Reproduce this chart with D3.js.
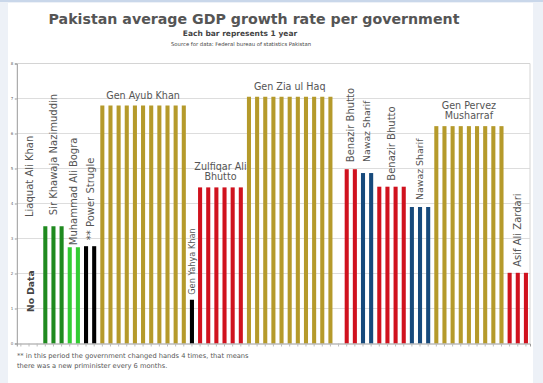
<!DOCTYPE html>
<html>
<head>
<meta charset="utf-8">
<script src="https://cdn.jsdelivr.net/npm/d3@7"></script>
<style>
  html, body { margin: 0; padding: 0; background: #edf1f7; }
  svg { display: block; }
  text { font-family: "DejaVu Sans", sans-serif; }
</style>
</head>
<body>
<script>
// ---- data ----
const governments = ["Liaquat Ali Khan", "Sir Khawaja Nazimuddin", "Muhammad Ali Bogra", "** Power Strugle",
  "Gen Ayub Khan", "Gen Yahya Khan", "Zulfiqar Ali Bhutto", "Gen Zia ul Haq", "",
  "Benazir Bhutto", "Nawaz Sharif", "Benazir Bhutto", "Nawaz Sharif", "Gen Pervez Musharraf", "Asif Ali Zardari"];
const yearsInOffice = [3, 3, 2, 2, 11, 1, 6, 11, 1, 2, 2, 4, 3, 9, 3];
const avgGrowth = [null, 3.35, 2.75, 2.78, 6.8, 1.25, 4.46, 7.05, null, 4.98, 4.87, 4.48, 3.9, 6.21, 2.02];
const groupColors = ["#000", "#1f8a1f", "#33cc33", "#000000", "#b59a2b", "#000000", "#d0121e", "#b59a2b", "#000",
  "#d0121e", "#174a7c", "#d0121e", "#174a7c", "#b59a2b", "#d0121e"];
const yTicks = [0, 1, 2, 3, 4, 5, 6, 7, 8];
const title = "Pakistan average GDP growth rate per government";
const subtitle = "Each bar represents 1 year";
const source = "Source for data: Federal bureau of statistics Pakistan";
const footnote = ["** in this period the government changed hands 4 times, that means",
  "there was a new priminister every 6 months."];

// ---- derived slots ----
const slots = [];
const groups = [];
let idx = 0;
governments.forEach((g, i) => {
  const start = idx;
  for (let k = 0; k < yearsInOffice[i]; k++) {
    slots.push({ slot: idx, group: i, value: avgGrowth[i], color: groupColors[i] });
    idx++;
  }
  groups.push({ name: g, start, end: idx - 1, value: avgGrowth[i], i });
});

const W = 543, H = 383;
const svg = d3.select("body").append("svg").attr("width", W).attr("height", H);

// page panel
svg.append("rect").attr("x", 0).attr("y", 0).attr("width", W).attr("height", 2).attr("fill", "#c9d7ea");
svg.append("rect").attr("x", 8).attr("y", 3).attr("width", 525).attr("height", H - 3).attr("fill", "#fff");

const x = d3.scaleBand().domain(slots.map(d => d.slot)).range([16.8, 530]).paddingInner(0.5).paddingOuter(0.25);
const y = d3.scaleLinear().domain([0, 8]).range([343.5, 63.5]);

// gridlines
svg.append("g").selectAll("line").data(yTicks.filter(t => t > 0 && t < 8)).join("line")
  .attr("x1", 16.8).attr("x2", 530).attr("y1", d => y(d)).attr("y2", d => y(d))
  .attr("stroke", "#dddddd").attr("stroke-width", 1);
// frame top & right
svg.append("path").attr("d", `M16.8,${y(8)}H530V${y(0)}`).attr("fill", "none").attr("stroke", "#d4d4d4");

// bars
svg.append("g").selectAll("rect").data(slots.filter(d => d.value != null)).join("rect")
  .attr("x", d => x(d.slot)).attr("width", x.bandwidth())
  .attr("y", d => y(d.value)).attr("height", d => y(0) - y(d.value))
  .attr("fill", d => d.color);

// axes
const yAxis = svg.append("g").attr("transform", "translate(16.8,0)")
  .call(d3.axisLeft(y).tickValues(yTicks).tickSize(2).tickPadding(1.5));
yAxis.select(".domain").attr("stroke", "#999");
yAxis.selectAll(".tick line").attr("stroke", "#999");
yAxis.selectAll(".tick text").attr("font-size", 4).attr("fill", "#666").attr("font-family", "DejaVu Sans");

const xAxis = svg.append("g").attr("transform", `translate(0,${y(0)})`)
  .call(d3.axisBottom(x).tickSize(3).tickFormat(""));
xAxis.select(".domain").attr("stroke", "#999");
xAxis.selectAll(".tick line").attr("stroke", "#bbb");

// titles
svg.append("text").attr("x", 254).attr("y", 24).attr("text-anchor", "middle")
  .attr("font-size", 14.2).attr("font-weight", "bold").attr("fill", "#555").text(title);
svg.append("text").attr("x", 240).attr("y", 35.5).attr("text-anchor", "middle")
  .attr("font-size", 7.5).attr("font-weight", "bold").attr("fill", "#444").text(subtitle);
svg.append("text").attr("x", 241).attr("y", 45.5).attr("text-anchor", "middle")
  .attr("font-size", 5.3).attr("fill", "#444").text(source);

// group labels
const horizontal = new Set(["Gen Ayub Khan", "Gen Zia ul Haq", "Zulfiqar Ali Bhutto", "Gen Pervez Musharraf"]);
const lineSplit = { "Zulfiqar Ali Bhutto": ["Zulfiqar Ali", "Bhutto"], "Gen Pervez Musharraf": ["Gen Pervez", "Musharraf"] };
const rotGap = { 1: 11, 2: 2, 3: 6, 5: 5, 9: 7, 10: 11, 11: 6, 12: 7, 14: 6 };
const labelG = svg.append("g").attr("fill", "#555");
groups.forEach(g => {
  if (!g.name) return;
  const cx = (x(g.start) + x(g.end) + x.bandwidth()) / 2;
  if (horizontal.has(g.name)) {
    const lines = lineSplit[g.name] || [g.name];
    const base = y(g.value) - 7;
    lines.forEach((ln, j) => {
      labelG.append("text").attr("x", cx).attr("y", base - (lines.length - 1 - j) * 10.5)
        .attr("text-anchor", "middle").attr("font-size", 9.6).text(ln);
    });
  } else {
    const top = g.value == null ? 217 : y(g.value) - (rotGap[g.i] ?? 6);
    labelG.append("text").attr("transform", `translate(${cx},${top}) rotate(-90)`)
      .attr("dy", "0.35em").attr("font-size", g.name === "Gen Yahya Khan" ? 8.2 : (g.name === "Nawaz Sharif" ? 9.4 : 10))
      .text(g.name);
  }
});
// No Data label
const g0 = groups[0];
labelG.append("text")
  .attr("transform", `translate(${(x(g0.start) + x(g0.end) + x.bandwidth()) / 2 + 1.5},${y(0.9)}) rotate(-90)`)
  .attr("dy", "0.35em").attr("font-size", 9.2).attr("font-weight", "bold").attr("fill", "#444").text("No Data");

// footnote
svg.append("g").selectAll("text").data(footnote).join("text")
  .attr("x", 17).attr("y", (d, i) => 358 + i * 10).attr("font-size", 6.7).attr("fill", "#555").text(d => d);
</script>
</body>
</html>
